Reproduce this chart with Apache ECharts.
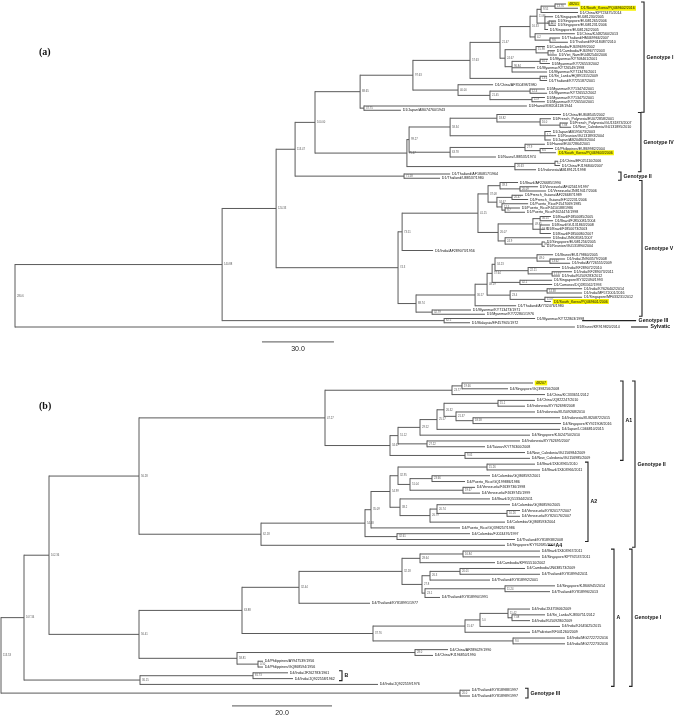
<!DOCTYPE html>
<html><head><meta charset="utf-8">
<script src="https://cdn.jsdelivr.net/npm/echarts@6/dist/echarts.min.js"></script>
<style>html,body{margin:0;padding:0;background:#fff}#c{width:676px;height:715px}</style>
</head><body><div id="c"></div><script>
// Tree format: (child,child,...)support@depth  |  leafName@depth   (depth = distance from root in scale-bar units)
// ---------- tree (a): DENV-1 ----------
const a_U0 = "(48201@229.6,D1/South_Korea/PQ469602/2016@234.6)13.76@225";
const a_U01 = `(${a_U0},D1/China/KP723475/2014@234.6)9.55@219.2`;
const a_S0 = "(D1/Singapore/EU081230/2005@224.2,(D1/Singapore/EU081265/2006@225.4,D1/Singapore/EU081231/2006@225.4)4.12@222.5,D1/Singapore/EU081262/2005@222.1)11.12@220.8";
const a_U02 = `(${a_U01},${a_S0})11.86@217.5`;
const a_T1 = "(D1/China/KJ482560/2013@233.3,(D1/Thailand/HM469966/2007@227.1,D1/Thailand/KF018487/2010@230.4)9.6@222.9)4.2@216.7";
const a_U1 = `(${a_U02},${a_T1})16.33@214.6`;
const a_C0 = "(D1/Cambodia/FJ639699/2002@220.8,(D1/Cambodia/FJ639677/2003@225,D1/Viet_Nam/EU482540/2006@225.8)7.6@222.1)15.98@217.1";
const a_M0 = "((D1/Myanmar/KY708461/2001@222.1,D1/Myanmar/KY726553/2002@222.9)10.2@218.8,D1/Myanmar/KY726549/1998@216.7,D1/Myanmar/KY713476/2001@221.7)96.84@207.1";
const a_G1A = `(${a_U1},(${a_C0},${a_M0})24.67@204.2)21.47@202.1`;
const a_SL = "(D1/Sri_Lanka/HQ891315/2009@221.7,D1/Thailand/KY725187/2001@221.7)13.6@218.8";
const a_G1bot = "(D1/China/AF350498/1980@199.2,((D1/Myanmar/KY713474/2001@220.8,D1/Myanmar/KY726552/2002@221.7)12.4@214.6,(D1/Myanmar/KY713475/2001@220.8,D1/Myanmar/KY726550/2001@220.8)11.9@215.4)21.45@197.9)40.00@184.6";
const a_J = "(D1/Hawaii/KM204118/1944@213.3,D1/Japan/AB074760/1943@160.8)37.75@145.4";
const a_genotypeI = `(((${a_G1A},${a_SL})57.63@189.6,${a_G1bot})97.63@165.8,${a_J})88.65@143.8`;

const a_G4a = "((D1/China/EU848545/2002@227.5,(D1/French_Polynesia/EU072858/2001@223.3,(D1/French_Polynesia/GU131873/2007@230.4,D1/New_Caledonia/GU131895/2010@231.7)7.88@227.1)16.0@218.8)18.82@200.8,(D1/Japan/AB195673/2003@223.3,D1/Reunion/GU131893/2004@225.4,D1/Japan/AB204803/2004@223.3)1.2@220.8)58.34@181.3";
const a_G4b = "((D1/Hawaii/EU072864/2001@220.8,(D1/Philippines/EU869982/2004@224.2,D1/South_Korea/PQ469603/2006@225.4)8.4@218.8)27.9@212.5,D1/Nauru/U88535/1974@200.4)63.78@181.3";
const a_Cg = "((D1/China/EF025110/2006@226.3,D1/China/FJ196840/2007@227.1)6.2@225,D1/Indonesia/AB189121/1998@217.1)26.63@208.3";
const a_genotypeIV = `((${a_G4a},${a_G4b})99.27@164.2,${a_Cg})75.47@163.3`;
const a_genotypeII = "(D1/Thailand/AF180817/1964@181.3,D1/Thailand/U88537/1980@177.1)71.58@162.1";

const a_Agrp = "((D1/Brazil/AF226685/1990@209.6,(D1/Venezuela/AF425619/1997@217.9,D1/Venezuela/JN819417/2006@221.3)20.09@210.4)39.3@202.1,((D1/French_Guiana/AF226687/1989@211.7,D1/French_Guiana/EF122231/2006@213.8)20.47@207.1,(D1/Puerto_Rico/FJ547069/1985@213.8,(D1/Puerto_Rico/FJ410188/1986@210.4,D1/Puerto_Rico/FJ024474/1998@212.5)9.7@204.2)12.5@202.9)34.67@200.8)37.08@197.1";
const a_Bgrp = "(((D1/Brazil/FJ850085/2005@223.3,D1/Brazil/FJ850081/2004@224.2)56.55@218.8,(D1/Brazil/GU131863/2008@222.9,D1/Brazil/FJ850073/2003@220.8,D1/Brazil/FJ850080/2007@223.3)19.86@218.8)49.85@215.8,(D1/India/JN903581/2007@223.3,(D1/Singapore/EU081256/2005@220.8,D1/Reunion/GU131890/2004@220.8)38.0@219.6)24.9@204.2)26.07@201.3";
const a_V1 = `((${a_Agrp},${a_Bgrp})41.15@192.9,D1/India/AF289073/1956@174.2)73.51@161.3`;
const a_Uv = "(((D1/Brunei/EU179860/2005@224.2,(D1/India/JN903579/2008@229.2,D1/India/AY726555/2009@231.3)13.62@222.9)49.0@217.5,(D1/India/KF289072/2010@227.1,(D1/India/KF289073/2011@232.1,D1/India/KU509283/2012@227.1)11.57@223.8)22.11@213.8)34.23@200,(D1/Singapore/KY322494/1993@223.8,D1/Comoros/DQ285562/1993@223.8)42.1@210.4)57.64@198.8";
const a_SKg = "((D1/India/KY626402/2014@236.3,D1/India/MF572001/2016@236.3)14.38@221.7,(D1/Singapore/MF033231/2012@236.3,D1/South_Korea/PQ469601/2006@223.3)11.07@220.8)23.4@206.3";
const a_V2 = `(((${a_Uv},${a_SKg})48.19@196.7,D1/Thailand/AY732476/1980@208.8)36.57@191.7,(D1/Myanmar/KY713473/1971@190,D1/Myanmar/KY722801/1976@195.8)32.79@173.8)88.74@167.1`;
const a_genotypeV = `(${a_V1},${a_V2})74.3@159.6`;
const a_genotypeIII = "(D1/Myanmar/KY722803/1998@216.7,D1/Malaysia/EF457905/1972@189.6)62.5@178.8";
const a_sylvatic = "D1/Brunei/KR919820/2014@233.3";
const treeA = `(((((${a_genotypeI},${a_genotypeIV})100.00@125,${a_genotypeII})113.47@116.7,${a_genotypeV})124.33@108.8,${a_genotypeIII})140.88@86.3,${a_sylvatic})280.6@0`;

// ---------- tree (b): DENV-4 ----------
const b_T1 = "((48207@106.4,D4/Singapore/GQ398256/2008@101.4)19.66@92.2,D4/China/KC333651/2012@108.8)23.77@90.2";
const b_N29 = "((((D4/China/JQ822247/2010@106.8,D4/Indonesia/KY762698/2008@104.8)15.1@99.4,(D4/Indonesia/KU509268/2010@106.8,(D4/Indonesia/KU820872/2015@111.8,D4/Singapore/KY921908/2016@112)18.58@94.4)21.37@91)26.32@88.6,D4/Japan/LC066810/2015@111.8)25.57@87.2,D4/Singapore/KJ024750/2010@105.8)29.52@83.8";
const b_N34 = `((${b_N29},(D4/Indonesia/KY762695/2007@103.8,D4/Taiwan/KY776300/2008@96.8)27.22@85.2)51.12@79.4,(D4/New_Caledonia/GU156984/2009@104.8,D4/New_Caledonia/GU156985/2009@105.8)9.05@92.8)34.67@77.8`;
const b_A1 = `(${b_T1},${b_N34})47.27@64.8`;
const b_N54 = "(((D4/Brazil/JX403965/2010@106.8,D4/Brazil/JX403966/2011@107.8)15.26@97.2,((D4/Colombia/GQ868592/2001@97.8,D4/Puerto_Rico/GQ199886/1986@92.8)23.66@86.2,(D4/Venezuela/FJ639736/1998@94.8,D4/Venezuela/FJ639745/1999@95.8)19.67@92.4)51.04@81.8)32.95@79.4,(D4/Brazil/JQ513344/2011@97.8,((D4/Colombia/GQ868590/2005@101.8,(D4/Venezuela/KY820177/2007@103.8,D4/Venezuela/KY820176/2007@103.8)10.26@101.2)20.74@87.2,D4/Colombia/GQ868593/2004@100.8)26.79@85.8)38.2@79.8)54.99@77.8";
const b_A2 = `(((${b_N54},D4/Puerto_Rico/GQ398257/1986@91.8)35.09@74,(D4/Colombia/FJ024476/1997@93.8,D4/Thailand/KY818938/2008@102.8)32.61@79.2)54.48@72.8,D4/Singapore/KY762685/2004@100.8)62.18@52`;
const b_genotypeII = `(${b_A1},${b_A2})56.28@27.6`;
const b_N32d = "(((D4/Brazil/JX403967/2011@107.8,D4/Singapore/KP792537/2011@107.8)16.84@92.4,D4/Cambodia/KF955510/2002@98.8)28.64@83.8,(((D4/Cambodia/JN638573/2009@104.8,D4/Thailand/KY818994/2011@107.8)20.01@91.8,D4/Thailand/KY818992/2001@97.8)26.3@85.8,((D4/Singapore/KJ806945/2014@110.8,D4/Thailand/KY818996/2013@109.8)11.24@100.8,D4/Thailand/KY818990/1991@87.8)23.1@84.8)27.8@84.2)32.18@80.2";
const b_N37 = "((((D4/India/JX475906/2009@105.8,(D4/Sri_Lanka/KJ830751/2012@108.8,D4/India/KU509280/2009@105.8)7.08@102.2)11.42@101.4,D4/India/KJ645625/2015@111.8)5.0@95.8,D4/Pakistan/KF041260/2009@105.8)15.67@92.8,(D4/India/MG272272/2016@112.8,D4/India/MG272273/2016@112.8)9.0@102.4)37.76@74.4";
const b_N63 = `((${b_N32d},D4/Thailand/KY818991/1977@73.8)32.44@59.6,${b_N37})63.88@48.2`;
const b_N58 = "((D4/China/AF289029/1990@89.4,D4/China/FJ196850/1990@86.4)28.0@82.8,(D4/Philippines/AY947539/1956@52.4,D4/Philippines/GQ868594/1956@52.4)0.50@51.4)58.81@47.2";
const b_genotypeI = `(${b_N63},${b_N58})56.41@27.6`;
const b_lineageB = "((D4/India/JF262783/1961@57.4,D4/India/JQ922558/1962@58.4)81.73@50.4,D4/India/JQ922559/1976@75.4)36.15@27.8";
const b_genotypeIII = "(D4/Thailand/KY818988/1997@93.8,D4/Thailand/KY818989/1997@93.8)20.0@91.8";
const treeB = `(((${b_genotypeII},${b_genotypeI})102.36@9.6,${b_lineageB})107.34@4.6,${b_genotypeIII})113.53@0`;

const highlightA = ["48201", "D1/South_Korea/PQ469602/2016", "D1/South_Korea/PQ469603/2006", "D1/South_Korea/PQ469601/2006"];
const highlightB = ["48207"];

const cladeNamesA = ["Genotype I", "Genotype IV", "Genotype II", "Genotype V", "Genotype III", "Sylvatic"];
const cladeFirstA = [0, 26, 40, 42, 74, 76];
const cladeLastA  = [25, 39, 41, 73, 75, 76];
const cladeNamesB = ["A1", "Genotype II", "A2", "A4", "A", "Genotype I", "B", "Genotype III"];
const cladeFirstB = [0, 0, 14, 28, 29, 29, 50, 53];
const cladeLastB  = [13, 28, 27, 28, 52, 52, 51, 54];

const scaleLenA = 30.0;
const scaleLenB = 20.0;

// ---- layout (positions in axis units / px), kept apart from the data ----
const layoutA = { bx: [262.1, 260.8, 252.5, 261.25, 258.8, 263.75], kind: ['b','b','b','b','d','d'], dash: [0,0,0,0,54,17], scaleStart: 102.9, scaleRow: 79.5 };
const layoutB = { bx: [124.4, 126.8, 117.4, 110.4, 122.6, 126.2, 68.2, 105.4], kind: ['b','b','b','d','b','b','b','b'], dash: [0,0,0,5,0,0,0,0], scaleStart: 46.2, scaleRow: 55.7 };

const LINE = '#5a5a5a';
const FONT = 'Liberation Sans, Arial, sans-serif';

function buildTree(str, hl) {
  const s = str.replace(/\s+/g, '');
  let i = 0, leafCount = 0;
  const nodes = [];
  function parseNode() {
    const n = { children: [] };
    if (s[i] === '(') {
      i++;
      n.children.push(parseNode());
      while (i < s.length && s[i] === ',') { i++; n.children.push(parseNode()); }
      i++;
    }
    let st = i; while (i < s.length && s[i] !== '@') i++;
    n.label = s.slice(st, i); i++;
    st = i; while (i < s.length && s[i] !== ',' && s[i] !== ')') i++;
    n.depth = parseFloat(s.slice(st, i)) || 0;
    return n;
  }
  const root = parseNode();
  function walk(n, pd) {
    n.parentDepth = pd;
    if (!n.children.length) { n.leaf = true; n.y = leafCount++; }
    else {
      n.children.forEach(c => walk(c, n.depth));
      n.y0 = n.children[0].y; n.y1 = n.children[n.children.length - 1].y;
      n.y = (n.y0 + n.y1) / 2;
    }
    n.hl = hl.indexOf(n.label) >= 0;
    nodes.push(n);
  }
  walk(root, root.depth);
  return { nodes, leafCount };
}

const A = buildTree(treeA, highlightA);
const B = buildTree(treeB, highlightB);

function treeRender(nodes, fs) {
  return function (params, api) {
    const n = nodes[params.dataIndex];
    const p = api.coord([n.depth, n.y]);
    const q = api.coord([n.parentDepth, n.y]);
    const ls = { stroke: LINE, lineWidth: 1 };
    const ch = [];
    if (Math.abs(q[0] - p[0]) > 0.01) ch.push({ type: 'line', shape: { x1: q[0], y1: p[1], x2: p[0], y2: p[1] }, style: ls });
    if (!n.leaf) {
      const a = api.coord([n.depth, n.y0]), b = api.coord([n.depth, n.y1]);
      ch.push({ type: 'line', shape: { x1: p[0], y1: a[1] - 0.5, x2: p[0], y2: b[1] + 0.5 }, style: ls });
      ch.push({ type: 'text', x: p[0] + 2, y: p[1], style: { text: n.label, fontSize: 2.7, fill: '#555', verticalAlign: 'middle', align: 'left', fontFamily: FONT } });
    } else {
      const st = { text: n.label, fontSize: fs, fill: '#111', verticalAlign: 'middle', align: 'left', fontFamily: FONT };
      if (n.hl) { st.backgroundColor = '#f6f200'; st.padding = [0.4, 1.2]; }
      ch.push({ type: 'text', x: p[0] + 1.8, y: p[1], style: st });
    }
    return { type: 'group', children: ch };
  };
}

function cladeRender(names, first, last, lay) {
  return function (params, api) {
    const k = params.dataIndex;
    const top = api.coord([lay.bx[k], first[k]]);
    const bot = api.coord([lay.bx[k], last[k]]);
    const x = top[0];
    const ls = { stroke: '#222', lineWidth: 1.1 };
    const ch = [];
    const mid = (top[1] + bot[1]) / 2;
    if (lay.kind[k] === 'd') {
      ch.push({ type: 'line', shape: { x1: x - lay.dash[k], y1: mid, x2: x, y2: mid }, style: ls });
    } else {
      const y0 = top[1] - 2, y1 = bot[1] + 2;
      ch.push({ type: 'polyline', shape: { points: [[x - 3, y0], [x, y0], [x, y1], [x - 3, y1]] }, style: { stroke: '#222', lineWidth: 1.1, fill: null } });
    }
    ch.push({ type: 'text', x: x + 2.5, y: mid, style: { text: names[k], fontSize: 5.2, fontWeight: 'bold', fill: '#111', verticalAlign: 'middle', align: 'left', fontFamily: FONT } });
    return { type: 'group', children: ch };
  };
}

function scaleRender(len, lay) {
  return function (params, api) {
    const a = api.coord([lay.scaleStart, lay.scaleRow]);
    const b = api.coord([lay.scaleStart + len, lay.scaleRow]);
    return { type: 'group', children: [
      { type: 'line', shape: { x1: a[0], y1: a[1], x2: b[0], y2: b[1] }, style: { stroke: '#777', lineWidth: 1.3 } },
      { type: 'text', x: (a[0] + b[0]) / 2, y: a[1] + 3.5, style: { text: len.toFixed(1), fontSize: 7, fill: '#222', align: 'center', verticalAlign: 'top', fontFamily: FONT } }
    ]};
  };
}

const chart = echarts.init(document.getElementById('c'), null, { renderer: 'canvas' });
const hidden = { show: false };
chart.setOption({
  animation: false,
  backgroundColor: '#fff',
  title: [
    { text: '(a)', left: 34, top: 42, textStyle: { fontFamily: 'Liberation Serif, Times New Roman, serif', fontWeight: 'bold', fontSize: 10, color: '#111' } },
    { text: '(b)', left: 34, top: 396, textStyle: { fontFamily: 'Liberation Serif, Times New Roman, serif', fontWeight: 'bold', fontSize: 10, color: '#111' } }
  ],
  grid: [
    { left: 15, width: 660, top: 4, height: 323 },
    { left: 1, width: 675, top: 383, height: 313 }
  ],
  xAxis: [
    { type: 'value', gridIndex: 0, min: 0, max: 275, show: false, splitLine: hidden },
    { type: 'value', gridIndex: 1, min: 0, max: 135, show: false, splitLine: hidden }
  ],
  yAxis: [
    { type: 'value', gridIndex: 0, min: 0, max: A.leafCount - 1, inverse: true, show: false, splitLine: hidden },
    { type: 'value', gridIndex: 1, min: 0, max: B.leafCount - 1, inverse: true, show: false, splitLine: hidden }
  ],
  series: [
    { type: 'custom', xAxisIndex: 0, yAxisIndex: 0, clip: false, renderItem: treeRender(A.nodes, 3.6),
      data: A.nodes.map(n => [n.depth, n.y, n.parentDepth]) },
    { type: 'custom', xAxisIndex: 1, yAxisIndex: 1, clip: false, renderItem: treeRender(B.nodes, 3.6),
      data: B.nodes.map(n => [n.depth, n.y, n.parentDepth]) },
    { type: 'custom', xAxisIndex: 0, yAxisIndex: 0, clip: false, renderItem: cladeRender(cladeNamesA, cladeFirstA, cladeLastA, layoutA),
      data: cladeNamesA.map((c, k) => [layoutA.bx[k], cladeFirstA[k]]) },
    { type: 'custom', xAxisIndex: 1, yAxisIndex: 1, clip: false, renderItem: cladeRender(cladeNamesB, cladeFirstB, cladeLastB, layoutB),
      data: cladeNamesB.map((c, k) => [layoutB.bx[k], cladeFirstB[k]]) },
    { type: 'custom', xAxisIndex: 0, yAxisIndex: 0, clip: false, renderItem: scaleRender(scaleLenA, layoutA),
      data: [[layoutA.scaleStart, layoutA.scaleRow]] },
    { type: 'custom', xAxisIndex: 1, yAxisIndex: 1, clip: false, renderItem: scaleRender(scaleLenB, layoutB),
      data: [[layoutB.scaleStart, layoutB.scaleRow]] }
  ]
});
</script></body></html>
